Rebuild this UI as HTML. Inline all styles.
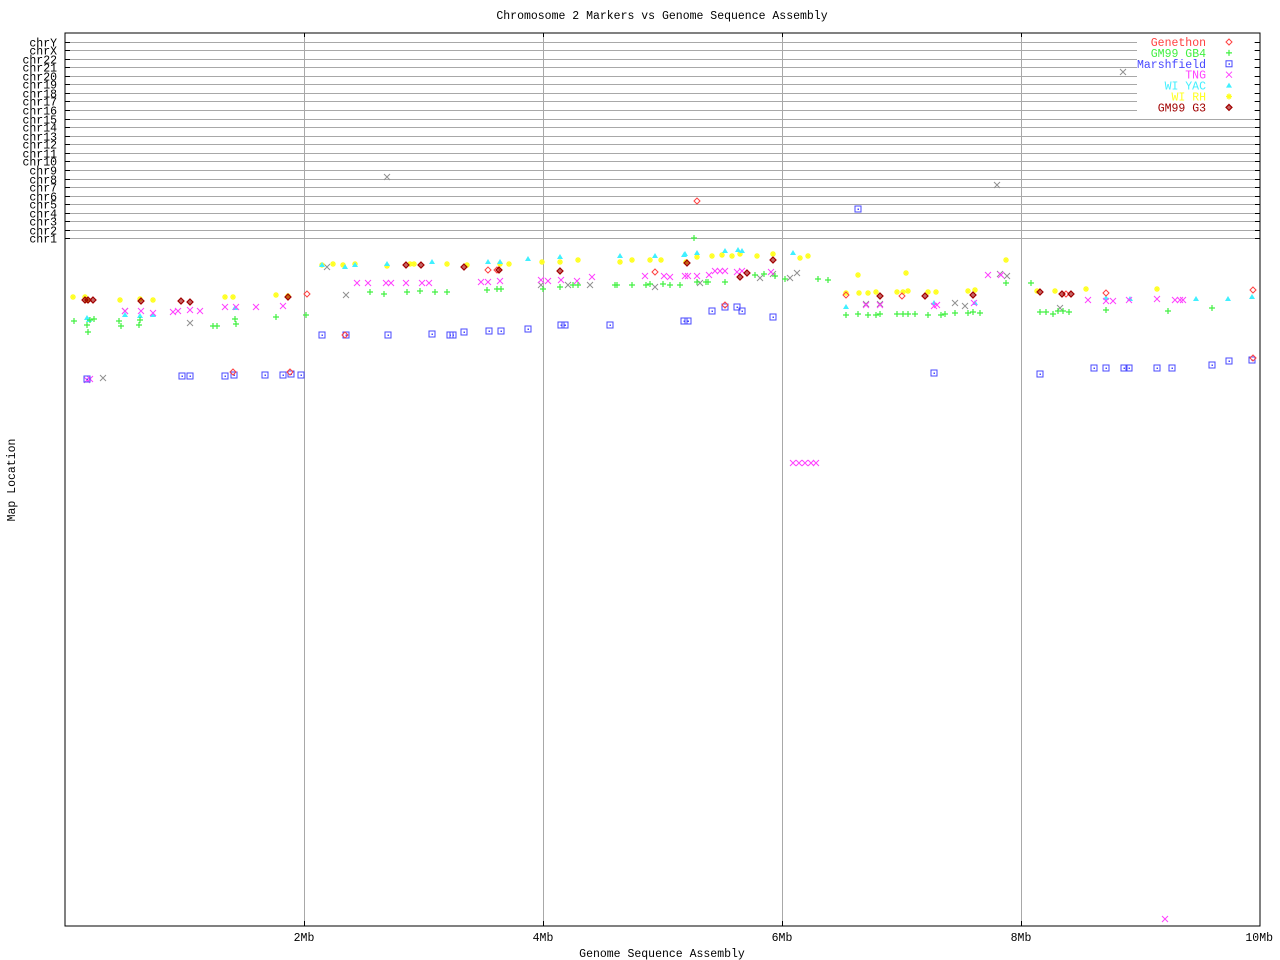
<!DOCTYPE html>
<html><head><meta charset="utf-8"><style>
html,body{margin:0;padding:0;background:#fff;}
svg{display:block;font-family:"Liberation Mono",monospace;font-size:11.5px;}
</style></head><body>
<svg id="s" width="1280" height="960" xmlns="http://www.w3.org/2000/svg">
<rect width="1280" height="960" fill="#fff"/>
<g id="grid"></g>
<g id="pts"></g>
<rect x="65" y="33" width="1195" height="893" fill="none" stroke="#000" stroke-width="1"/>
<text x="662" y="19" text-anchor="middle">Chromosome 2 Markers vs Genome Sequence Assembly</text>
<text x="662" y="957" text-anchor="middle">Genome Sequence Assembly</text>
<text transform="translate(15,480) rotate(-90)" text-anchor="middle">Map Location</text>
<text x="304" y="941" text-anchor="middle">2Mb</text>
<text x="543" y="941" text-anchor="middle">4Mb</text>
<text x="782" y="941" text-anchor="middle">6Mb</text>
<text x="1021" y="941" text-anchor="middle">8Mb</text>
<text x="1273" y="941" text-anchor="end">10Mb</text>
<g id="leg"></g>
</svg>
<script>
var NS="http://www.w3.org/2000/svg";
function el(p,t,a,txt){var e=document.createElementNS(NS,t);for(var k in a)e.setAttribute(k,a[k]);if(txt!==undefined)e.textContent=txt;p.appendChild(e);return e;}
var g=document.getElementById('grid');
var labels=["chrY","chrX","chr22","chr21","chr20","chr19","chr18","chr17","chr16","chr15","chr14","chr13","chr12","chr11","chr10","chr9","chr8","chr7","chr6","chr5","chr4","chr3","chr2","chr1"];
for(var i=0;i<24;i++){var y=Math.round(41.5+i*8.565)+0.5;
 el(g,'line',{x1:65,x2:1260,y1:y,y2:y,stroke:'#a8a8a8'});
 el(g,'line',{x1:65,x2:70,y1:y,y2:y,stroke:'#000'});
 el(g,'line',{x1:1255,x2:1260,y1:y,y2:y,stroke:'#000'});
 el(g,'text',{x:57,y:y+4,'text-anchor':'end'},labels[i]);}
[304,543,782,1021].forEach(function(x){x+=0.5;el(g,'line',{x1:x,x2:x,y1:33,y2:926,stroke:'#a8a8a8'});
 el(g,'line',{x1:x,x2:x,y1:33,y2:37,stroke:'#000'});el(g,'line',{x1:x,x2:x,y1:921,y2:926,stroke:'#000'});});
var P=document.getElementById('pts');
function mk(p,type,c,x,y){
 if(type=='d')el(p,'polygon',{points:(x)+','+(y-3)+' '+(x+3)+','+y+' '+x+','+(y+3)+' '+(x-3)+','+y,fill:'none',stroke:c});
 else if(type=='D')el(p,'polygon',{points:(x)+','+(y-3)+' '+(x+3)+','+y+' '+x+','+(y+3)+' '+(x-3)+','+y,fill:c,'fill-opacity':0.6,stroke:c,'stroke-width':1.2});
 else if(type=='+'){el(p,'path',{d:'M'+(x-3)+' '+y+'h6M'+x+' '+(y-3)+'v6',stroke:c,'stroke-width':1.2});}
 else if(type=='s'){el(p,'rect',{x:x-3,y:y-3,width:6,height:6,fill:'none',stroke:c});el(p,'rect',{x:x-0.5,y:y-0.5,width:1.5,height:1.5,fill:c});}
 else if(type=='x'){el(p,'path',{d:'M'+(x-3)+' '+(y-3)+'l6 6M'+(x+3)+' '+(y-3)+'l-6 6',stroke:c,'stroke-width':1});}
 else if(type=='t'){el(p,'polygon',{points:x+','+(y-3)+' '+(x+3)+','+(y+2)+' '+(x-3)+','+(y+2),fill:c});}
 else if(type=='*'){el(p,'path',{d:'M'+(x-3)+' '+y+'h6M'+x+' '+(y-3)+'v6M'+(x-2)+' '+(y-2)+'l4 4M'+(x+2)+' '+(y-2)+'l-4 4',stroke:c,'stroke-width':1.3});}
}
var C={gen:'#ff4040',gb4:'#40f040',mar:'#4848ff',tng:'#ff40ff',yac:'#40f0ff',rh:'#ffff20',g3:'#a00000',gr:'#909090'};
function S(list,t,c){list.forEach(function(p){mk(P,t,c,p[0],p[1]);});}
S([[387,177],[997,185],[1123,72],[103,378],[327,267],[346,295],[190,323],[125,311],[773,274],[760,278],[790,278],[797,273],[1000,274],[1007,276],[700,283],[655,287],[590,285],[541,285],[568,285],[1060,308],[866,304],[955,303],[965,306],[880,304]],'x',C.gr);
S([[73,297],[85,297],[87,300],[120,300],[140,299],[153,300],[225,297],[233,297],[276,295],[288,296],[322,265],[333,264],[343,265],[355,264],[387,266],[410,264],[414,264],[447,264],[467,265],[500,264],[509,264],[542,262],[560,262],[578,260],[620,262],[632,260],[650,260],[661,260],[686,262],[697,257],[712,256],[722,255],[732,256],[740,254],[757,256],[773,254],[800,258],[808,256],[858,275],[906,273],[846,293],[859,293],[868,293],[876,292],[897,292],[903,292],[908,291],[928,292],[936,292],[968,291],[975,290],[1006,260],[1037,291],[1055,291],[1086,289],[1157,289]],'*',C.rh);
S([[87,318],[89,320],[125,315],[153,315],[140,316],[235,308],[322,265],[345,267],[355,265],[387,264],[432,262],[488,262],[500,262],[528,259],[560,257],[620,256],[655,256],[684,255],[685,254],[697,253],[725,251],[738,250],[742,251],[793,253],[846,307],[934,303],[975,303],[1106,298],[1130,299],[1196,299],[1228,299],[1252,297]],'t',C.yac);
S([[125,311],[141,311],[153,313],[173,312],[178,311],[190,310],[200,311],[225,307],[236,307],[256,307],[283,306],[357,283],[368,283],[386,283],[391,283],[406,283],[422,283],[429,283],[481,282],[488,282],[500,281],[541,280],[548,281],[561,280],[577,281],[592,277],[645,276],[664,276],[670,277],[685,276],[688,276],[697,276],[709,275],[715,271],[720,271],[725,271],[737,272],[742,271],[771,272],[793,463],[799,463],[805,463],[811,463],[816,463],[866,305],[880,305],[934,306],[937,305],[974,303],[988,275],[1001,275],[1088,300],[1106,301],[1113,301],[1129,300],[1157,299],[1175,300],[1180,300],[1183,300],[1165,919],[87,380],[90,379]],'x',C.tng);
S([[74,321],[87,325],[88,332],[90,320],[94,319],[119,321],[121,326],[139,325],[140,320],[213,326],[217,326],[235,319],[236,324],[276,317],[306,315],[370,292],[384,294],[407,292],[420,291],[435,292],[447,292],[487,290],[497,289],[501,289],[543,289],[560,287],[573,285],[578,285],[615,285],[617,285],[632,285],[646,285],[650,284],[663,284],[670,285],[680,285],[697,282],[706,282],[708,282],[725,282],[755,275],[764,274],[775,276],[785,279],[818,279],[828,280],[846,315],[858,314],[868,315],[876,315],[880,314],[897,314],[903,314],[908,314],[915,314],[928,315],[941,315],[945,314],[955,313],[968,313],[973,312],[980,313],[1006,283],[1031,283],[1040,312],[1046,312],[1053,314],[1058,311],[1063,311],[1069,312],[1106,310],[1168,311],[1212,308],[694,238]],'+',C.gb4);
S([[87,379],[182,376],[190,376],[225,376],[234,375],[265,375],[283,375],[291,374],[301,375],[322,335],[346,335],[388,335],[432,334],[450,335],[453,335],[464,332],[489,331],[501,331],[528,329],[561,325],[565,325],[610,325],[684,321],[688,321],[712,311],[725,307],[737,307],[742,311],[773,317],[858,209],[934,373],[1040,374],[1094,368],[1106,368],[1124,368],[1129,368],[1157,368],[1172,368],[1212,365],[1229,361],[1252,360]],'s',C.mar);
S([[307,294],[488,270],[497,270],[697,201],[655,272],[846,295],[902,296],[1066,294],[1106,293],[1253,290],[233,372],[345,335],[290,372],[725,305],[1253,358]],'d',C.gen);
S([[85,300],[88,300],[93,300],[141,301],[181,301],[190,302],[288,297],[406,265],[421,265],[464,267],[499,270],[560,271],[687,263],[740,277],[747,273],[773,260],[880,296],[925,296],[973,295],[1040,292],[1062,294],[1071,294]],'D',C.g3);
var L=document.getElementById('leg');
el(L,'rect',{x:1137,y:36,width:117,height:77,fill:'#fff'});
var items=[['Genethon',C.gen,'d'],['GM99 GB4',C.gb4,'+'],['Marshfield',C.mar,'s'],['TNG',C.tng,'x'],['WI YAC',C.yac,'t'],['WI RH',C.rh,'*'],['GM99 G3',C.g3,'D']];
items.forEach(function(it,i){var y=42+i*10.9;el(L,'text',{x:1206,y:y+4,'text-anchor':'end',fill:it[1]},it[0]);mk(L,it[2],it[1],1229,y);});
</script>
</body></html>
